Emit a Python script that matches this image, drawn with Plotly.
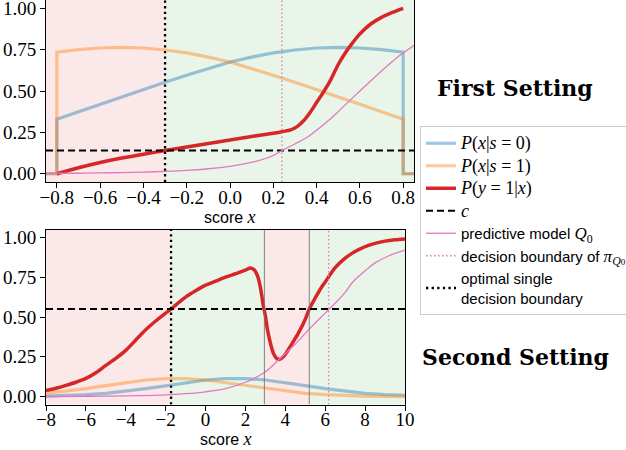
import plotly.graph_objects as go

W, H = 626, 450

# ---------------- First setting (top) ----------------
top_dens_x = [-0.85, -0.8, -0.8, -0.7, -0.6, -0.5, -0.4, -0.3, -0.2, -0.1, 0.0,
              0.1, 0.2, 0.3, 0.4, 0.5, 0.6, 0.7, 0.8, 0.8, 0.85]
top_p_s0 = [0.0, 0.0, 0.33, 0.375, 0.42, 0.465, 0.51, 0.553, 0.595, 0.637, 0.675,
            0.705, 0.73, 0.748, 0.76, 0.764, 0.76, 0.75, 0.735, 0.0, 0.0]
top_p_s1 = [0.0, 0.0, 0.735, 0.75, 0.76, 0.764, 0.76, 0.748, 0.73, 0.705, 0.675,
            0.637, 0.595, 0.553, 0.51, 0.465, 0.42, 0.375, 0.33, 0.0, 0.0]

top_red_x = [-0.8, -0.7, -0.6, -0.5, -0.4, -0.3, -0.2, -0.1, 0.0, 0.1, 0.2, 0.24, 0.28,
             0.31, 0.34, 0.37, 0.40, 0.43, 0.46, 0.50, 0.53, 0.56, 0.60, 0.65, 0.70, 0.75, 0.80]
top_red_y = [0.0, 0.036, 0.068, 0.095, 0.118, 0.14, 0.162, 0.183, 0.204, 0.225, 0.245, 0.254,
             0.265, 0.285, 0.32, 0.37, 0.43, 0.49, 0.555, 0.66, 0.725, 0.78, 0.845, 0.905,
             0.945, 0.975, 1.0]

top_q0_x = [-0.85, -0.7, -0.6, -0.5, -0.4, -0.3, -0.2, -0.1, 0.0, 0.1, 0.2, 0.24, 0.3,
            0.36, 0.44, 0.5, 0.555, 0.6, 0.67, 0.73, 0.79, 0.85]
top_q0_y = [0.002, 0.003, 0.005, 0.007, 0.01, 0.014, 0.02, 0.03, 0.045, 0.068, 0.11, 0.14,
            0.18, 0.224, 0.305, 0.375, 0.445, 0.5, 0.585, 0.655, 0.72, 0.775]

top_c = 0.14
top_opt_boundary = -0.3
top_q0_boundary = 0.24
top_xrange = [-0.85, 0.85]
top_regions = [(-0.85, -0.3, "bad"), (-0.3, 0.85, "good")]
top_xticks = [-0.8, -0.6, -0.4, -0.2, 0.0, 0.2, 0.4, 0.6, 0.8]

# ---------------- Second setting (bottom) ----------------
bot_dens_x = [-8, -7, -6, -5, -4, -3, -2, -1, 0, 1, 2, 3, 4, 5, 6, 7, 8, 9, 10]
bot_p_s0 = [0.003, 0.006, 0.012, 0.02, 0.033, 0.05, 0.067, 0.087, 0.104, 0.113, 0.113,
            0.104, 0.088, 0.069, 0.05, 0.033, 0.02, 0.012, 0.008]
bot_p_s1 = [0.02, 0.033, 0.05, 0.069, 0.088, 0.104, 0.113, 0.113, 0.104, 0.087, 0.067,
            0.05, 0.033, 0.02, 0.012, 0.006, 0.003, 0.001, 0.0005]

bot_red_x = [-8, -7.5, -7, -6.5, -6, -5.5, -5, -4.5, -4, -3.5, -3, -2.5, -2, -1.73, -1.5, -1,
             -0.5, 0, 0.5, 1, 1.5, 2.0, 2.25, 2.45, 2.6, 2.74, 2.9, 3.0, 3.1, 3.24, 3.41,
             3.58, 3.72, 3.9, 4.08, 4.33, 4.66, 5.0, 5.2, 5.5, 5.83, 6.0, 6.5, 7.0, 7.34,
             7.7, 8.17, 8.5, 9.0, 9.5, 10]
bot_red_y = [0.037, 0.052, 0.07, 0.09, 0.114, 0.15, 0.196, 0.24, 0.29, 0.355, 0.42, 0.475,
             0.525, 0.55, 0.575, 0.625, 0.665, 0.70, 0.725, 0.75, 0.772, 0.795, 0.808, 0.795,
             0.76, 0.693, 0.569, 0.507, 0.424, 0.342, 0.269, 0.238, 0.234, 0.25, 0.28,
             0.331, 0.40, 0.486, 0.55, 0.62, 0.69, 0.72, 0.81, 0.87, 0.90, 0.925, 0.95,
             0.963, 0.977, 0.985, 0.99]

bot_q0_x = [-8, -6, -4, -2, -1, 0, 1, 2, 2.95, 3.66, 4.5, 5.2, 5.8, 6.21, 7.0, 7.34, 8.0,
            8.5, 9.2, 10]
bot_q0_y = [0.0, 0.002, 0.004, 0.01, 0.018, 0.03, 0.05, 0.09, 0.151, 0.23, 0.33, 0.424,
            0.5, 0.55, 0.655, 0.714, 0.79, 0.84, 0.885, 0.92]

bot_c = 0.55
bot_opt_boundary = -1.73
bot_q0_boundary = 6.17
bot_switch_lines = [2.95, 5.2]
bot_xrange = [-8, 10]
bot_regions = [(-8, -1.73, "bad"), (-1.73, 2.95, "good"), (2.95, 5.2, "bad"), (5.2, 10, "good")]
bot_xticks = [-8, -6, -4, -2, 0, 2, 4, 6, 8, 10]

yrange = [-0.05, 1.05]
yticks = [0.0, 0.25, 0.5, 0.75, 1.0]

# ---------------- styles ----------------
BLUE = "rgba(31,119,180,0.42)"
ORANGE = "rgba(255,127,14,0.42)"
RED = "rgb(214,39,40)"
PINK = "rgb(227,119,194)"
SHADE = {"bad": "rgba(214,39,40,0.10)", "good": "rgba(44,160,44,0.11)"}
SERIF = "Liberation Serif"
SANS = "Liberation Sans"


def m(s, size=18):
    return f"<span style=\"font-family:'{SERIF}';font-size:{size}px\">{s}</span>"


names = {
    "s0": m("<i>P</i>(<i>x</i>|<i>s</i> = 0)"),
    "s1": m("<i>P</i>(<i>x</i>|<i>s</i> = 1)"),
    "y": m("<i>P</i>(<i>y</i> = 1|<i>x</i>)"),
    "c": m("<i>c</i>"),
    "q0": "predictive model " + m("<i>Q</i><sub>0</sub>", 17),
    "q0b": "decision boundary of " + m("<i>π</i><sub><i>Q</i><span style=\"font-size:9px\">0</span></sub>", 17),
    "opt": "optimal single<br>decision boundary",
}

fig = go.Figure()


def add_panel(xa, ya, dens_x, p0, p1, rx, ry, qx, qy, c, opt_b, q0_b, xr, legend):
    fig.add_trace(go.Scatter(x=dens_x, y=p0, mode="lines", line=dict(color=BLUE, width=3.2),
                             name=names["s0"], showlegend=legend, xaxis=xa, yaxis=ya))
    fig.add_trace(go.Scatter(x=dens_x, y=p1, mode="lines", line=dict(color=ORANGE, width=3.2),
                             name=names["s1"], showlegend=legend, xaxis=xa, yaxis=ya))
    fig.add_trace(go.Scatter(x=rx, y=ry, mode="lines",
                             line=dict(color=RED, width=3.5, shape="spline", smoothing=0.8),
                             name=names["y"], showlegend=legend, xaxis=xa, yaxis=ya))
    fig.add_trace(go.Scatter(x=xr, y=[c, c], mode="lines", line=dict(color="black", width=2, dash="7px,4px"),
                             name=names["c"], showlegend=legend, xaxis=xa, yaxis=ya))
    fig.add_trace(go.Scatter(x=qx, y=qy, mode="lines",
                             line=dict(color=PINK, width=1.3, shape="spline", smoothing=0.9),
                             name=names["q0"], showlegend=legend, xaxis=xa, yaxis=ya))
    fig.add_trace(go.Scatter(x=[q0_b, q0_b], y=yrange, mode="lines",
                             line=dict(color=PINK, width=1.3, dash="1.5px,2.5px"),
                             name=names["q0b"], showlegend=legend, xaxis=xa, yaxis=ya))
    fig.add_trace(go.Scatter(x=[opt_b, opt_b], y=yrange, mode="lines",
                             line=dict(color="black", width=2.3, dash="2.3px,3.3px"),
                             name=names["opt"], showlegend=legend, xaxis=xa, yaxis=ya))


add_panel("x", "y", top_dens_x, top_p_s0, top_p_s1, top_red_x, top_red_y, top_q0_x, top_q0_y,
          top_c, top_opt_boundary, top_q0_boundary, top_xrange, True)
add_panel("x2", "y2", bot_dens_x, bot_p_s0, bot_p_s1, bot_red_x, bot_red_y, bot_q0_x, bot_q0_y,
          bot_c, bot_opt_boundary, bot_q0_boundary, bot_xrange, False)

for xv in bot_switch_lines:
    fig.add_trace(go.Scatter(x=[xv, xv], y=yrange, mode="lines",
                             line=dict(color="rgba(110,110,110,0.85)", width=1),
                             showlegend=False, xaxis="x2", yaxis="y2"))

shapes = []
for x0, x1, kind in top_regions:
    shapes.append(dict(type="rect", xref="x", yref="y domain", x0=x0, x1=x1, y0=0, y1=1,
                       fillcolor=SHADE[kind], line=dict(width=0), layer="below"))
for x0, x1, kind in bot_regions:
    shapes.append(dict(type="rect", xref="x2", yref="y2 domain", x0=x0, x1=x1, y0=0, y1=1,
                       fillcolor=SHADE[kind], line=dict(width=0), layer="below"))

axis_common = dict(showline=True, mirror=True, linecolor="black", linewidth=1, ticks="outside",
                   ticklen=5, tickwidth=1, tickcolor="black", showgrid=False, zeroline=False,
                   ticklabeloverflow="allow",
                   tickfont=dict(family=SERIF, size=19, color="black"))

top_dom_x = [46 / W, 414 / W]
top_dom_y = [1 - 182 / H, 1.0]
bot_dom_x = [46 / W, 405 / W]
bot_dom_y = [1 - 404.5 / H, 1 - 229.5 / H]

fig.update_layout(
    width=W, height=H,
    margin=dict(l=0, r=0, t=0, b=0, autoexpand=False),
    paper_bgcolor="white", plot_bgcolor="white",
    xaxis=dict(domain=top_dom_x, range=top_xrange, anchor="y", tickvals=top_xticks,
               tickformat=".1f", ticklabelstandoff=-7, **axis_common),
    yaxis=dict(domain=top_dom_y, range=yrange, anchor="x", tickvals=yticks,
               tickformat=".2f", **axis_common),
    xaxis2=dict(domain=bot_dom_x, range=bot_xrange, anchor="y2", tickvals=bot_xticks,
                tickformat="d", ticklabelstandoff=-7, **axis_common),
    yaxis2=dict(domain=bot_dom_y, range=yrange, anchor="x2", tickvals=yticks,
                tickformat=".2f", **axis_common),
    shapes=shapes,
    legend=dict(x=420 / W, y=1 - 126 / H, xanchor="left", yanchor="top", bgcolor="white",
                bordercolor="#cccccc", borderwidth=1,
                font=dict(family=SANS, size=15, color="black"), itemwidth=30),
    annotations=[
        dict(text="score " + m("<i>x</i>"), x=(top_dom_x[0] + top_dom_x[1]) / 2, y=1 - 217 / H,
             xref="paper", yref="paper", xanchor="center", yanchor="middle", showarrow=False,
             font=dict(family=SANS, size=16, color="black")),
        dict(text="score " + m("<i>x</i>"), x=(bot_dom_x[0] + bot_dom_x[1]) / 2, y=1 - 439 / H,
             xref="paper", yref="paper", xanchor="center", yanchor="middle", showarrow=False,
             font=dict(family=SANS, size=16, color="black")),
        dict(text="<b>First Setting</b>", x=515 / W, y=1 - 88 / H, xref="paper", yref="paper",
             xanchor="center", yanchor="middle", showarrow=False,
             font=dict(family="DejaVu Serif", size=22, color="black")),
        dict(text="<b>Second Setting</b>", x=515 / W, y=1 - 357 / H, xref="paper", yref="paper",
             xanchor="center", yanchor="middle", showarrow=False,
             font=dict(family="DejaVu Serif", size=22, color="black")),
    ],
)

fig.write_html("out.html", post_script="document.body.style.margin='0px';",
               config={"displayModeBar": False})
